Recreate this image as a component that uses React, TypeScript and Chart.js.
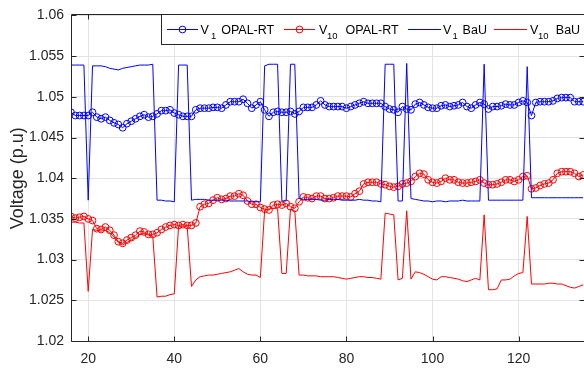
import React, { useEffect, useRef } from 'react';
import { Chart, registerables } from 'chart.js';

Chart.register(...registerables);

const xValues = [
  16, 17, 18, 19, 20, 21, 22, 23, 24, 25, 26, 27, 28, 29, 30, 31, 32, 33, 34, 35,
  36, 37, 38, 39, 40, 41, 42, 43, 44, 45, 46, 47, 48, 49, 50, 51, 52, 53, 54, 55,
  56, 57, 58, 59, 60, 61, 62, 63, 64, 65, 66, 67, 68, 69, 70, 71, 72, 73, 74, 75,
  76, 77, 78, 79, 80, 81, 82, 83, 84, 85, 86, 87, 88, 89, 90, 91, 92, 93, 94, 95,
  96, 97, 98, 99, 100, 101, 102, 103, 104, 105, 106, 107, 108, 109, 110, 111, 112, 113, 114, 115,
  116, 117, 118, 119, 120, 121, 122, 123, 124, 125, 126, 127, 128, 129, 130, 131, 132, 133, 134, 135,
];

const v1Opal = [
  1.0481, 1.0477, 1.0477, 1.0477, 1.0477, 1.0481, 1.0475, 1.0473, 1.0475, 1.0471,
  1.0468, 1.0466, 1.0462, 1.0467, 1.0470, 1.0473, 1.0476, 1.0478, 1.0475, 1.0476,
  1.0479, 1.0483, 1.0483, 1.0484, 1.0480, 1.0478, 1.0476, 1.0476, 1.0476, 1.0484,
  1.0486, 1.0486, 1.0486, 1.0487, 1.0487, 1.0486, 1.0490, 1.0494, 1.0494, 1.0494,
  1.0497, 1.0492, 1.0486, 1.0490, 1.0494, 1.0484, 1.0476, 1.0481, 1.0482, 1.0481,
  1.0481, 1.0482, 1.0479, 1.0482, 1.0487, 1.0487, 1.0487, 1.0490, 1.0495, 1.0490,
  1.0488, 1.0488, 1.0488, 1.0488, 1.0486, 1.0488, 1.0490, 1.0492, 1.0494, 1.0492,
  1.0492, 1.0492, 1.0492, 1.0488, 1.0485, 1.0484, 1.0481, 1.0488, 1.0485, 1.0484,
  1.0491, 1.0493, 1.0490, 1.0487, 1.0486, 1.0486, 1.0489, 1.0490, 1.0488, 1.0489,
  1.0490, 1.0493, 1.0488, 1.0486, 1.0490, 1.0493, 1.0491, 1.0485, 1.0488, 1.0488,
  1.0489, 1.0491, 1.0490, 1.0490, 1.0493, 1.0495, 1.0493, 1.0477, 1.0493, 1.0494,
  1.0494, 1.0494, 1.0495, 1.0498, 1.0499, 1.0499, 1.0499, 1.0494, 1.0494, 1.0494,
];

const v10Opal = [
  1.0353, 1.0351, 1.0352, 1.0353, 1.0350, 1.0348, 1.0338, 1.0337, 1.0340, 1.0336,
  1.0330, 1.0322, 1.0320, 1.0324, 1.0327, 1.0330, 1.0335, 1.0334, 1.0331, 1.0331,
  1.0333, 1.0337, 1.0340, 1.0342, 1.0343, 1.0342, 1.0343, 1.0342, 1.0342, 1.0345,
  1.0365, 1.0368, 1.0369, 1.0373, 1.0376, 1.0374, 1.0375, 1.0378, 1.0378, 1.0381,
  1.0379, 1.0372, 1.0368, 1.0368, 1.0364, 1.0362, 1.0361, 1.0367, 1.0368, 1.0367,
  1.0369, 1.0365, 1.0363, 1.0371, 1.0377, 1.0376, 1.0375, 1.0378, 1.0378, 1.0375,
  1.0375, 1.0376, 1.0378, 1.0378, 1.0378, 1.0377, 1.0381, 1.0384, 1.0393, 1.0395,
  1.0395, 1.0395, 1.0393, 1.0392, 1.0390, 1.0389, 1.0390, 1.0393, 1.0394, 1.0396,
  1.0402, 1.0406, 1.0405, 1.0398, 1.0395, 1.0394, 1.0396, 1.0400, 1.0398, 1.0398,
  1.0395, 1.0394, 1.0394, 1.0395, 1.0396, 1.0398, 1.0394, 1.0392, 1.0392, 1.0393,
  1.0395, 1.0398, 1.0398, 1.0396, 1.0398, 1.0402, 1.0403, 1.0387, 1.0388, 1.0391,
  1.0393, 1.0394, 1.0398, 1.0406, 1.0408, 1.0408, 1.0408, 1.0406, 1.0402, 1.0404,
];

const v1Bau = [
  1.0539, 1.0539, 1.0539, 1.0539, 1.0373, 1.0538, 1.0538, 1.0538, 1.0537, 1.0535,
  1.0534, 1.0533, 1.0535, 1.0536, 1.0537, 1.0538, 1.0539, 1.0539, 1.0539, 1.0540,
  1.0373, 1.0373, 1.0372, 1.0372, 1.0371, 1.0539, 1.0539, 1.0539, 1.0373, 1.0374,
  1.0374, 1.0374, 1.0373, 1.0373, 1.0373, 1.0373, 1.0373, 1.0372, 1.0372, 1.0372,
  1.0372, 1.0372, 1.0371, 1.0371, 1.0371, 1.0538, 1.0540, 1.0540, 1.0540, 1.0372,
  1.0372, 1.0540, 1.0540, 1.0375, 1.0374, 1.0374, 1.0374, 1.0374, 1.0373, 1.0373,
  1.0374, 1.0374, 1.0374, 1.0373, 1.0373, 1.0373, 1.0373, 1.0374, 1.0373, 1.0373,
  1.0372, 1.0372, 1.0371, 1.0540, 1.0540, 1.0540, 1.0372, 1.0372, 1.0541, 1.0375,
  1.0374, 1.0373, 1.0372, 1.0372, 1.0371, 1.0372, 1.0372, 1.0371, 1.0372, 1.0372,
  1.0372, 1.0373, 1.0372, 1.0372, 1.0372, 1.0372, 1.0540, 1.0373, 1.0373, 1.0373,
  1.0373, 1.0373, 1.0373, 1.0373, 1.0373, 1.0373, 1.0537, 1.0376, 1.0376, 1.0376,
  1.0376, 1.0376, 1.0376, 1.0376, 1.0376, 1.0376, 1.0376, 1.0376, 1.0376, 1.0376,
];

const v10Bau = [
  1.0346, 1.0346, 1.0345, 1.0345, 1.0261, 1.0337, 1.0336, 1.0335, 1.0336, 1.0333,
  1.0328, 1.0321, 1.0318, 1.0321, 1.0324, 1.0327, 1.0331, 1.0332, 1.0330, 1.0329,
  1.0254, 1.0255, 1.0255, 1.0257, 1.0258, 1.0341, 1.0341, 1.0341, 1.0267, 1.0275,
  1.0279, 1.0280, 1.0281, 1.0281, 1.0282, 1.0283, 1.0284, 1.0285, 1.0287, 1.0289,
  1.0285, 1.0282, 1.0281, 1.0281, 1.0278, 1.0361, 1.0362, 1.0363, 1.0363, 1.0283,
  1.0283, 1.0362, 1.0360, 1.0281, 1.0281, 1.0280, 1.0280, 1.0280, 1.0279, 1.0279,
  1.0279, 1.0279, 1.0278, 1.0277, 1.0276, 1.0277, 1.0278, 1.0279, 1.0279, 1.0278,
  1.0278, 1.0277, 1.0276, 1.0357, 1.0356, 1.0355, 1.0275, 1.0277, 1.0360, 1.0276,
  1.0285, 1.0284, 1.0282, 1.0279, 1.0276, 1.0275, 1.0279, 1.0279, 1.0278, 1.0277,
  1.0276, 1.0274, 1.0273, 1.0275, 1.0277, 1.0275, 1.0355, 1.0263, 1.0263, 1.0264,
  1.0275, 1.0275, 1.0276, 1.0280, 1.0283, 1.0284, 1.0353, 1.0270, 1.0270, 1.0270,
  1.0270, 1.0271, 1.0271, 1.0270, 1.0270, 1.0268, 1.0266, 1.0265, 1.0267, 1.0269,
];

const seriesLabels = ['V1 OPAL-RT', 'V10 OPAL-RT', 'V1 BaU', 'V10 BaU'];
const legendSymbol = ['V', 'V', 'V', 'V'];
const legendSubscripts = ['1', '10', '1', '10'];
const legendNames = ['OPAL-RT', 'OPAL-RT', 'BaU', 'BaU'];
const xTickValues = [20, 40, 60, 80, 100, 120];
const yTickValues = [1.02, 1.025, 1.03, 1.035, 1.04, 1.045, 1.05, 1.055, 1.06];
const yTickLabels = ['1.02', '1.025', '1.03', '1.035', '1.04', '1.045', '1.05', '1.055', '1.06'];
const yAxisTitle = 'Voltage (p.u)';

const FONT = '"Liberation Sans", Arial, Helvetica, sans-serif';
const BLUE = '#0000ff';
const RED = '#ff0000';
const AXIS = '#262626';
const GRID = '#e3e3e3';

const seriesColors = [BLUE, RED, BLUE, RED];
const seriesMarkers = [true, true, false, false];

// legend layout (pixel positions of the MATLAB-like legend box)
const LEGEND_BOX = { left: 161.5, top: 14.5, bottom: 44.5 };
const LEGEND_ITEMS = [
  { x0: 167, x1: 198, v: 200.5, sub: 211, name: 221.2 },
  { x0: 284, x1: 315, v: 319, sub: 327, name: 345.6 },
  { x0: 408, x1: 441, v: 443, sub: 452.5, name: 462.6 },
  { x0: 494, x1: 527, v: 530, sub: 538, name: 555.8 },
];

const axesBoxPlugin = {
  id: 'axesBox',
  afterDatasetsDraw(chart: any) {
    const { ctx, chartArea, scales } = chart;
    const L = Math.round(chartArea.left) + 0.5;
    const R = Math.round(chartArea.right) + 0.5;
    const T = Math.round(chartArea.top) - 0.5;
    const B = Math.round(chartArea.bottom) + 0.5;
    const tl = 5;
    ctx.save();
    ctx.strokeStyle = AXIS;
    ctx.lineWidth = 1;
    ctx.beginPath();
    ctx.moveTo(L, T);
    ctx.lineTo(L, B);
    ctx.lineTo(R, B);
    ctx.moveTo(L, T);
    ctx.lineTo(R, T);
    ctx.moveTo(R, T);
    ctx.lineTo(R, B);
    for (const t of scales.x.ticks) {
      const px = Math.round(scales.x.getPixelForValue(t.value)) + 0.5;
      ctx.moveTo(px, B);
      ctx.lineTo(px, B - tl);
      ctx.moveTo(px, T);
      ctx.lineTo(px, T + tl);
    }
    for (const t of scales.y.ticks) {
      const py = Math.round(scales.y.getPixelForValue(t.value)) + 0.5;
      ctx.moveTo(L, py);
      ctx.lineTo(L + tl, py);
      ctx.moveTo(R, py);
      ctx.lineTo(R - tl, py);
    }
    ctx.stroke();
    ctx.restore();
  },
};

const legendPlugin = {
  id: 'matlabLegend',
  afterDraw(chart: any) {
    const { ctx } = chart;
    const midY = (LEGEND_BOX.top + LEGEND_BOX.bottom) / 2;
    ctx.save();
    ctx.fillStyle = '#ffffff';
    ctx.fillRect(LEGEND_BOX.left, LEGEND_BOX.top, 700, LEGEND_BOX.bottom - LEGEND_BOX.top);
    ctx.strokeStyle = AXIS;
    ctx.lineWidth = 1;
    ctx.strokeRect(LEGEND_BOX.left, LEGEND_BOX.top, 700, LEGEND_BOX.bottom - LEGEND_BOX.top);
    LEGEND_ITEMS.forEach((it, i) => {
      const color = seriesColors[i];
      ctx.strokeStyle = color;
      ctx.lineWidth = 1;
      ctx.beginPath();
      ctx.moveTo(it.x0, midY);
      ctx.lineTo(it.x1, midY);
      ctx.stroke();
      if (seriesMarkers[i]) {
        ctx.beginPath();
        ctx.arc((it.x0 + it.x1) / 2, midY, 3.4, 0, Math.PI * 2);
        ctx.stroke();
      }
      ctx.fillStyle = '#000000';
      ctx.textBaseline = 'alphabetic';
      ctx.textAlign = 'left';
      ctx.font = `12.5px ${FONT}`;
      ctx.fillText(legendSymbol[i], it.v, 33.5);
      ctx.font = `9.5px ${FONT}`;
      ctx.fillText(legendSubscripts[i], it.sub, 38.5);
      ctx.font = `12.5px ${FONT}`;
      ctx.fillText(legendNames[i], it.name, 33.5);
    });
    ctx.restore();
  },
};

function toPoints(values: number[]) {
  return xValues.map((x, i) => ({ x, y: values[i] }));
}

export default function App() {
  const ref = useRef<HTMLCanvasElement>(null);

  useEffect(() => {
    if (!ref.current) return;
    const seriesData = [v1Opal, v10Opal, v1Bau, v10Bau];
    const datasets = seriesData.map((vals, i) => ({
      label: seriesLabels[i],
      data: toPoints(vals),
      borderColor: seriesColors[i],
      backgroundColor: 'rgba(0,0,0,0)',
      borderWidth: 1,
      pointRadius: seriesMarkers[i] ? 3.4 : 0,
      pointBorderWidth: 1,
      pointBorderColor: seriesColors[i],
      pointBackgroundColor: 'rgba(0,0,0,0)',
      pointHoverRadius: seriesMarkers[i] ? 3.4 : 0,
      tension: 0,
      order: seriesMarkers[i] ? 1 : 0,
    }));

    const chart = new Chart(ref.current, {
      type: 'line',
      data: { datasets },
      plugins: [axesBoxPlugin, legendPlugin],
      options: {
        animation: false,
        responsive: false,
        maintainAspectRatio: false,
        devicePixelRatio: 1,
        layout: { autoPadding: false, padding: { left: 0, right: 0, top: 15, bottom: 0 } },
        plugins: { legend: { display: false }, tooltip: { enabled: false } },
        events: [],
        scales: {
          x: {
            type: 'linear',
            min: 16,
            max: 135.2,
            afterBuildTicks: (axis: any) => {
              axis.ticks = xTickValues.map((v) => ({ value: v }));
            },
            afterFit: (axis: any) => {
              axis.height = 28;
            },
            grid: { color: GRID, lineWidth: 1, drawTicks: false },
            border: { display: false },
            ticks: {
              font: { size: 14, family: FONT },
              color: AXIS,
              padding: 10,
              maxRotation: 0,
              autoSkip: false,
              callback: (v: any) => String(v),
            },
          },
          y: {
            type: 'linear',
            min: 1.02,
            max: 1.06,
            afterBuildTicks: (axis: any) => {
              axis.ticks = yTickValues.map((v) => ({ value: v }));
            },
            afterFit: (axis: any) => {
              axis.width = 71;
            },
            grid: { color: GRID, lineWidth: 1, drawTicks: false },
            border: { display: false },
            ticks: {
              font: { size: 14, family: FONT },
              color: AXIS,
              padding: 7,
              autoSkip: false,
              callback: (v: any) => {
                const idx = yTickValues.findIndex((t) => Math.abs(t - Number(v)) < 1e-9);
                return idx >= 0 ? yTickLabels[idx] : '';
              },
            },
            title: {
              display: true,
              text: yAxisTitle,
              font: { size: 18, family: FONT },
              color: AXIS,
              padding: { top: 7, bottom: 0 },
            },
          },
        },
      },
    } as any);

    return () => chart.destroy();
  }, []);

  return (
    <div style={{ position: 'fixed', left: 0, top: 0, width: 584, height: 369, background: '#ffffff' }}>
      <canvas ref={ref} width={584} height={369} style={{ display: 'block', width: 584, height: 369 }} />
    </div>
  );
}
